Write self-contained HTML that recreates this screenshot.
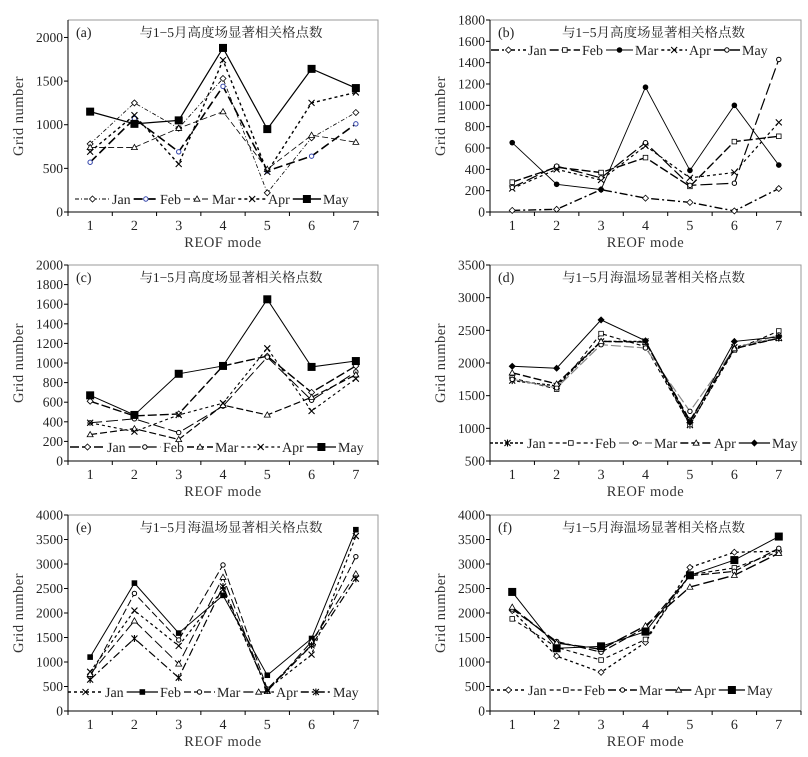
<!DOCTYPE html>
<html><head><meta charset="utf-8">
<style>
html,body{margin:0;padding:0;background:#fff;}
svg{display:block;}
svg text{font-family:"Liberation Serif","Noto Serif CJK SC",serif;}
</style></head>
<body>
<svg id="chart" width="808" height="757" viewBox="0 0 808 757" xmlns="http://www.w3.org/2000/svg"></svg>
<script>
// ---- data ----
const categories = [1,2,3,4,5,6,7];
const months = ["Jan","Feb","Mar","Apr","May"];
// panel a
const aJan = [780,1250,960,1530,220,850,1140];
const aFeb = [570,1070,690,1440,470,640,1010];
const aMar = [740,740,960,1150,490,880,800];
const aApr = [690,1110,550,1740,460,1250,1370];
const aMay = [1150,1010,1050,1880,950,1640,1420];
const aTicks = [0,500,1000,1500,2000];
// panel b
const bJan = [15,25,210,130,90,10,220];
const bFeb = [280,420,370,510,240,660,710];
const bMar = [650,260,210,1170,390,1000,440];
const bApr = [220,400,300,620,320,370,840];
const bMay = [230,430,320,650,250,270,1430];
const bTicks = [0,200,400,600,800,1000,1200,1400,1600,1800];
// panel c
const cJan = [610,460,480,970,1070,700,970];
const cFeb = [390,430,290,560,1060,620,910];
const cMar = [270,330,220,570,470,650,880];
const cApr = [390,300,470,590,1150,510,840];
const cMay = [670,470,890,970,1650,960,1020];
const cTicks = [0,200,400,600,800,1000,1200,1400,1600,1800,2000];
// panel d
const dJan = [1730,1650,2330,2330,1050,2240,2380];
const dFeb = [1770,1600,2450,2250,1060,2200,2490];
const dMar = [1750,1620,2280,2230,1260,2220,2430];
const dApr = [1850,1680,2330,2320,1120,2220,2380];
const dMay = [1950,1920,2660,2340,1090,2330,2400];
const dTicks = [500,1000,1500,2000,2500,3000,3500];
// panel e
const eJan = [800,2050,1330,2480,440,1150,3570];
const eFeb = [1100,2610,1590,2360,730,1480,3700];
const eMar = [700,2400,1450,2980,450,1350,3150];
const eApr = [750,1840,960,2730,400,1420,2800];
const eMay = [640,1480,680,2540,420,1340,2700];
const eTicks = [0,500,1000,1500,2000,2500,3000,3500,4000];
// panel f
const fJan = [2050,1120,790,1400,2930,3240,3260];
const fFeb = [1880,1300,1040,1460,2780,2920,3250];
const fMar = [2080,1420,1200,1700,2760,2850,3320];
const fApr = [2120,1390,1260,1740,2530,2770,3220];
const fMay = [2430,1280,1320,1620,2770,3080,3560];
const fTicks = [0,500,1000,1500,2000,2500,3000,3500,4000];

const panels = [
 {id:"a",label:"(a)",title:"与1−5月高度场显著相关格点数",L:68,R:378,T:20,B:212,ymin:0,ymax:2200,ticks:aTicks,
  series:[aJan,aFeb,aMar,aApr,aMay],legY:203,legX:[112,160,212,268,323],
  sty:[{d:"4,2,1,2",w:0.8,m:"diamond"},{d:"9,4",w:1.6,m:"circle",mc:"#3344aa"},{d:"6,3",w:0.8,m:"triangle"},{d:"3,3",w:1.4,m:"x"},{d:"",w:1.2,m:"bigsquare"}]},
 {id:"b",label:"(b)",title:"与1−5月高度场显著相关格点数",L:490,R:801,T:20,B:212,ymin:0,ymax:1800,ticks:bTicks,
  series:[bJan,bFeb,bMar,bApr,bMay],legY:54,legX:[528,582,635,689,742],
  sty:[{d:"8,3,2,3",w:1.4,m:"diamond"},{d:"9,3",w:1.4,m:"square"},{d:"",w:0.9,m:"dot"},{d:"3,3",w:1.2,m:"x"},{d:"12,4",w:1.2,m:"circle"}]},
 {id:"c",label:"(c)",title:"与1−5月高度场显著相关格点数",L:68,R:378,T:265,B:461,ymin:0,ymax:2000,ticks:cTicks,
  series:[cJan,cFeb,cMar,cApr,cMay],legY:451,legX:[107,163,215,282,338],
  sty:[{d:"9,3",w:1.4,m:"diamond"},{d:"12,4",w:1.0,m:"circle"},{d:"7,3",w:1.2,m:"triangle"},{d:"3,3",w:1.1,m:"x"},{d:"",w:1.0,m:"bigsquare"}]},
 {id:"d",label:"(d)",title:"与1−5月海温场显著相关格点数",L:490,R:801,T:265,B:461,ymin:500,ymax:3500,ticks:dTicks,
  series:[dJan,dFeb,dMar,dApr,dMay],legY:447,legX:[527,595,654,714,772],
  sty:[{d:"3,2",w:1.4,m:"asterisk"},{d:"4,3",w:1.1,m:"square"},{d:"10,3",w:1.2,m:"circle",lc:"#888"},{d:"8,3",w:1.4,m:"triangle"},{d:"",w:1.0,m:"fdiamond"}]},
 {id:"e",label:"(e)",title:"与1−5月海温场显著相关格点数",L:68,R:378,T:515,B:711,ymin:0,ymax:4000,ticks:eTicks,
  series:[eJan,eFeb,eMar,eApr,eMay],legY:696,legX:[105,160,217,276,333],
  sty:[{d:"3,3",w:1.2,m:"x"},{d:"",w:1.0,m:"fsquare"},{d:"7,3",w:1.0,m:"circle"},{d:"10,4",w:1.0,m:"triangle"},{d:"8,3,2,3",w:1.2,m:"asterisk"}]},
 {id:"f",label:"(f)",title:"与1−5月海温场显著相关格点数",L:490,R:801,T:515,B:711,ymin:0,ymax:4000,ticks:fTicks,
  series:[fJan,fFeb,fMar,fApr,fMay],legY:694,legX:[528,584,639,694,747],
  sty:[{d:"3,3",w:1.3,m:"diamond"},{d:"4,3",w:1.1,m:"square"},{d:"8,3",w:1.2,m:"circle"},{d:"11,4",w:1.4,m:"triangle"},{d:"",w:1.0,m:"bigsquare"}]}
];

const NS="http://www.w3.org/2000/svg";
const FONT='"Liberation Serif","Noto Serif CJK SC",serif';
const svg=document.getElementById("chart");
function mk(tag,attrs,parent){const e=document.createElementNS(NS,tag);for(const k in attrs)e.setAttribute(k,attrs[k]);if(tag==="text"){e.setAttribute("font-family",FONT);e.setAttribute("text-rendering","geometricPrecision");}(parent||svg).appendChild(e);return e;}

function marker(g,type,x,y,col){
  const c=col||"#000";let e;
  if(type==="diamond"){e=mk("polygon",{points:`${x},${y-3} ${x+3},${y} ${x},${y+3} ${x-3},${y}`,fill:"#fff",stroke:c,"stroke-width":0.8},g);}
  else if(type==="fdiamond"){e=mk("polygon",{points:`${x},${y-3} ${x+3},${y} ${x},${y+3} ${x-3},${y}`,fill:c,stroke:c,"stroke-width":0.8},g);}
  else if(type==="circle"){e=mk("circle",{cx:x,cy:y,r:2.2,fill:"#fff",stroke:c,"stroke-width":1},g);}
  else if(type==="dot"){e=mk("circle",{cx:x,cy:y,r:2.8,fill:c},g);}
  else if(type==="triangle"){e=mk("polygon",{points:`${x},${y-3} ${x+3},${y+2.2} ${x-3},${y+2.2}`,fill:"#fff",stroke:c,"stroke-width":0.8},g);}
  else if(type==="square"){e=mk("rect",{x:x-2.3,y:y-2.3,width:4.6,height:4.6,fill:"#fff",stroke:c,"stroke-width":0.8},g);}
  else if(type==="fsquare"){e=mk("rect",{x:x-2.8,y:y-2.8,width:5.6,height:5.6,fill:c},g);}
  else if(type==="bigsquare"){e=mk("rect",{x:x-4,y:y-4,width:8,height:8,fill:c},g);}
  else if(type==="x"){e=mk("path",{d:`M${x-3},${y-3}L${x+3},${y+3}M${x-3},${y+3}L${x+3},${y-3}`,stroke:c,"stroke-width":1.1},g);}
  else if(type==="asterisk"){e=mk("path",{d:`M${x-3},${y-3}L${x+3},${y+3}M${x-3},${y+3}L${x+3},${y-3}M${x},${y-3.5}L${x},${y+3.5}`,stroke:c,"stroke-width":1.1},g);}
  
  
}

panels.forEach(p=>{
  const g=mk("g",{});
  
  
  const sy=v=>p.B-(v-p.ymin)/(p.ymax-p.ymin)*(p.B-p.T);
  const step=(p.R-p.L)/categories.length;
  const sx=i=>p.L+step*(i+0.5);
  const frame=mk("path",{d:`M${p.L},${p.T}L${p.R},${p.T}L${p.R},${p.B}`,fill:"none",stroke:"#999","stroke-width":1},g);
  
  
  const ya=mk("line",{x1:p.L,y1:p.T,x2:p.L,y2:p.B,stroke:"#000","stroke-width":1},g);
  
  
  const xa=mk("line",{x1:p.L,y1:p.B,x2:p.R,y2:p.B,stroke:"#000","stroke-width":1},g);
  
  
  p.ticks.forEach(t=>{
    const y=sy(t);
    mk("line",{x1:p.L-4,y1:y,x2:p.L,y2:y,stroke:"#000","stroke-width":1},g);
    const tx=mk("text",{x:p.L-5,y:y+4.5,"font-size":13.5,"text-anchor":"end",fill:"#222"},g);
    tx.textContent=t;
    
    
  });
  for(let i=0;i<=categories.length;i++){
    const x=p.L+step*i;
    mk("line",{x1:x,y1:p.B,x2:x,y2:p.B+4,stroke:"#000","stroke-width":1},g);
  }
  categories.forEach((c,i)=>{
    const tx=mk("text",{x:sx(i),y:p.B+18,"font-size":14,"text-anchor":"middle",fill:"#222"},g);
    tx.textContent=c;
    
    
  });
  const xt=mk("text",{x:(p.L+p.R)/2,y:p.B+35,"font-size":14.5,"text-anchor":"middle",fill:"#333","letter-spacing":"0.5"},g);
  xt.textContent="REOF  mode";
  
  
  const ycx=p.L-45, ycy=(p.T+p.B)/2;
  const yt=mk("text",{x:ycx,y:ycy,"font-size":14.5,"text-anchor":"middle",fill:"#333",transform:`rotate(-90 ${ycx} ${ycy})`,"letter-spacing":"0.5"},g);
  yt.textContent="Grid  number";
  
  
  const lb=mk("text",{x:p.L+8,y:p.T+17,"font-size":14,fill:"#222"},g);
  lb.textContent=p.label;
  
  
  const ti=mk("text",{x:(p.L+p.R)/2+8,y:p.T+17,"font-size":13.5,"text-anchor":"middle",fill:"#222"},g);
  ti.textContent=p.title;
  
  
  p.series.forEach((vals,si)=>{
    const st=p.sty[si];
    const sg=mk("g",{},g);
    
    
    const pts=vals.map((v,i)=>`${sx(i)},${sy(v)}`).join(" ");
    const pl=mk("polyline",{points:pts,fill:"none",stroke:st.lc||"#000","stroke-width":st.w,"stroke-dasharray":st.d||"none"},sg);
    
    
    vals.forEach((v,i)=>marker(sg,st.m,sx(i),sy(v),st.mc));
  });
  let prevEnd=null;
  p.legX.forEach((tx0,si)=>{
    const st=p.sty[si];
    const lg=mk("g",{},g);
    
    
    const t=mk("text",{x:tx0,y:p.legY+1,"font-size":14,fill:"#222"},lg);
    t.textContent=months[si];
    let w=22;try{w=t.getComputedTextLength()||22;}catch(e){}
    const x1=prevEnd===null?tx0-37:prevEnd+3,x2=tx0-2,y=p.legY-4;
    const ln=mk("line",{x1:x1,y1:y,x2:x2,y2:y,stroke:st.lc||"#000","stroke-width":st.w+0.2,"stroke-dasharray":st.d||"none"},lg);
    lg.insertBefore(ln,t);
    marker(lg,st.m,(x1+x2)/2,y,st.mc);
    prevEnd=tx0+w;
  });
});
</script>
</body></html>
